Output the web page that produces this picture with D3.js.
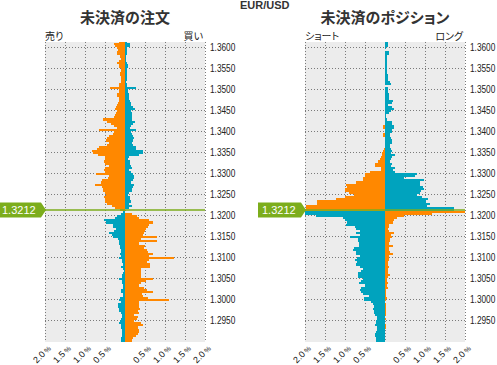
<!DOCTYPE html>
<html>
<head>
<meta charset="utf-8">
<script src="https://cdn.jsdelivr.net/npm/d3@7"></script>
<style>
  body { margin: 0; background: #fff; }
  svg { display: block; font-family: "Liberation Sans", Arial, sans-serif; }
  .jp { font-family: "Noto Sans CJK JP", sans-serif; font-feature-settings: "palt"; }
</style>
</head>
<body>
<div id="chart"></div>
<script>
"use strict"

const pair = "EUR/USD";
const currentPrice = 1.3212;
const binTop = 1.3610;   // lower edge of the top bucket
const binStep = 0.0005;  // bucket size

const yTicks = [1.2950, 1.3000, 1.3050, 1.3100, 1.3150, 1.3200, 1.3250,
                1.3300, 1.3350, 1.3400, 1.3450, 1.3500, 1.3550, 1.3600];
const xTicks = [-2, -1.5, -1, -0.5, 0.5, 1, 1.5, 2];
const xGrid = [-2, -1.5, -1, -0.5, 0, 0.5, 1, 1.5, 2];

// open orders in % per bucket, top bucket (1.3610) first
const orderSell = [
  0.14, 0.27, 0.24, 0.19, 0.18, 0.20, 0.19, 0.12, 0.10, 0.14,
  0.19, 0.16, 0.15, 0.10, 0.10, 0.12, 0.12, 0.10, 0.10, 0.09,
  0.14, 0.14, 0.37, 0.16, 0.16, 0.20, 0.20, 0.15, 0.14, 0.17,
  0.19, 0.22, 0.25, 0.20, 0.23, 0.26, 0.27, 0.56, 0.45, 0.35,
  0.28, 0.20, 0.64, 0.27, 0.29, 0.40, 0.45, 0.47, 0.40, 0.46,
  0.66, 0.70, 0.82, 0.80, 0.67, 0.51, 0.50, 0.52, 0.50, 0.39,
  0.50, 0.52, 0.50, 0.72, 0.41, 0.43, 0.58, 0.59, 0.74, 0.57,
  0.56, 0.55, 0.49, 0.48, 0.52, 0.51, 0.51, 0.44, 0.33, 0.24,
  0.12, 0.04, 0.10, 0.20, 0.24, 0.52, 0.47, 0.31, 0.29, 0.22,
  0.27, 0.39, 0.33, 0.31, 0.18, 0.16, 0.14, 0.13, 0.12, 0.10,
  0.11, 0.12, 0.10, 0.16, 0.08, 0.08, 0.06, 0.09, 0.04, 0.03,
  0.04, 0.08, 0.08, 0.14, 0.08, 0.08, 0.06, 0.06, 0.09, 0.09,
  0.06, 0.06, 0.12, 0.14, 0.09, 0.18, 0.18, 0.14, 0.14, 0.10,
  0.08, 0.08, 0.10, 0.12, 0.14, 0.11, 0.09, 0.08, 0.08, 0.08,
  0.08, 0.09, 0.09, 0.09
];
const orderBuy = [
  0.04, 0.13, 0.12, 0.04, 0.04, 0.06, 0.05, 0.03, 0.03, 0.03,
  0.04, 0.08, 0.07, 0.04, 0.04, 0.05, 0.05, 0.04, 0.04, 0.03,
  0.05, 0.04, 0.27, 0.08, 0.08, 0.10, 0.10, 0.10, 0.12, 0.14,
  0.15, 0.19, 0.26, 0.16, 0.18, 0.18, 0.18, 0.18, 0.25, 0.19,
  0.14, 0.12, 0.27, 0.15, 0.17, 0.20, 0.23, 0.20, 0.18, 0.20,
  0.27, 0.28, 0.46, 0.44, 0.36, 0.09, 0.07, 0.12, 0.13, 0.14,
  0.18, 0.11, 0.15, 0.19, 0.23, 0.22, 0.21, 0.15, 0.23, 0.21,
  0.18, 0.17, 0.11, 0.07, 0.12, 0.13, 0.16, 0.11, 0.18, 0.09,
  0.00, 0.00, 0.17, 0.30, 0.34, 0.61, 0.71, 0.61, 0.57, 0.52,
  0.51, 0.48, 0.44, 0.80, 0.40, 0.80, 0.36, 0.51, 0.48, 0.54,
  0.57, 0.71, 0.59, 1.23, 0.61, 0.54, 0.63, 0.63, 0.40, 0.40,
  0.40, 0.40, 0.40, 0.69, 0.52, 0.40, 0.34, 0.48, 0.56, 0.71,
  0.43, 0.44, 0.57, 1.11, 0.36, 0.34, 0.34, 0.38, 0.32, 0.36,
  0.23, 0.32, 0.29, 0.23, 0.40, 0.44, 0.32, 0.34, 0.34, 0.32,
  0.28, 0.21, 0.18, 0.18
];

// open positions in % per bucket, top bucket first
const positionShort = [
  0.00, 0.00, 0.00, 0.00, 0.00, 0.00, 0.00, 0.00, 0.00, 0.00,
  0.00, 0.00, 0.00, 0.00, 0.00, 0.00, 0.00, 0.00, 0.00, 0.00,
  0.00, 0.00, 0.00, 0.00, 0.00, 0.00, 0.00, 0.00, 0.00, 0.00,
  0.00, 0.00, 0.00, 0.00, 0.00, 0.00, 0.00, 0.00, 0.00, 0.00,
  0.04, 0.04, 0.00, 0.00, 0.04, 0.04, 0.00, 0.00, 0.00, 0.00,
  0.00, 0.02, 0.04, 0.07, 0.08, 0.10, 0.12, 0.17, 0.24, 0.26,
  0.09, 0.09, 0.37, 0.50, 0.50, 0.54, 0.55, 0.72, 0.98, 0.94,
  1.00, 0.99, 0.90, 0.78, 1.01, 1.22, 1.69, 1.69, 1.98, 1.98,
  2.00, 2.00, 2.00, 1.73, 1.04, 1.00, 0.96, 0.98, 0.74, 0.73,
  0.62, 0.72, 0.62, 0.87, 0.68, 0.68, 0.66, 0.64, 0.77, 0.79,
  0.72, 0.72, 0.63, 0.70, 0.75, 0.70, 0.72, 0.63, 0.56, 0.60,
  0.67, 0.67, 0.67, 0.54, 0.60, 0.64, 0.49, 0.60, 0.62, 0.60,
  0.56, 0.40, 0.52, 0.52, 0.34, 0.31, 0.28, 0.29, 0.27, 0.28,
  0.24, 0.21, 0.20, 0.22, 0.22, 0.25, 0.20, 0.21, 0.22, 0.24,
  0.24, 0.23, 0.22, 0.23
];
const positionLong = [
  0.08, 0.08, 0.07, 0.02, 0.00, 0.10, 0.11, 0.06, 0.05, 0.05,
  0.05, 0.05, 0.06, 0.04, 0.04, 0.05, 0.08, 0.07, 0.07, 0.12,
  0.16, 0.01, 0.07, 0.07, 0.07, 0.09, 0.11, 0.10, 0.19, 0.18,
  0.08, 0.18, 0.22, 0.16, 0.10, 0.03, 0.02, 0.05, 0.18, 0.18,
  0.23, 0.22, 0.18, 0.18, 0.12, 0.12, 0.14, 0.18, 0.17, 0.13,
  0.13, 0.14, 0.18, 0.16, 0.25, 0.18, 0.16, 0.13, 0.17, 0.14,
  0.24, 0.21, 0.24, 0.79, 0.75, 0.48, 0.97, 0.87, 0.88, 0.96,
  0.98, 0.89, 0.87, 0.81, 0.93, 1.07, 1.02, 1.12, 1.04, 1.72,
  1.72, 2.00, 1.18, 0.48, 0.29, 0.22, 0.21, 0.10, 0.11, 0.08,
  0.09, 0.23, 0.15, 0.18, 0.13, 0.13, 0.10, 0.19, 0.09, 0.11,
  0.12, 0.21, 0.11, 0.09, 0.09, 0.08, 0.08, 0.09, 0.08, 0.08,
  0.08, 0.13, 0.07, 0.04, 0.06, 0.08, 0.05, 0.07, 0.03, 0.03,
  0.03, 0.03, 0.05, 0.02, 0.01, 0.02, 0.02, 0.03, 0.02, 0.03,
  0.03, 0.00, 0.03, 0.01, 0.00, 0.03, 0.03, 0.00, 0.01, 0.00,
  0.00, 0.01, 0.00, 0.00
];

const orange = "#ff8800";
const teal = "#00a3be";
const green = "#7cad1c";
const squeeze = 0.83;   // the price labels are drawn in a narrow face

let width = 497, height = 365;
let plotTop = 42, plotBottom = 342, plotWidth = 160;

let panels = [
  {title: "未決済の注文", leftLabel: "売り", rightLabel: "買い",
   left: orderSell, right: orderBuy, x0: 45},
  {title: "未決済のポジション", leftLabel: "ショート", rightLabel: "ロング",
   left: positionShort, right: positionLong, x0: 305}
];

let svg = d3.select("#chart")
  .append("svg")
  .attr("width", width)
  .attr("height", height);

svg.append("text")
  .attr("x", 240)
  .attr("y", 8.5)
  .style("font-size", "11px")
  .style("font-weight", "bold")
  .style("fill", "#333")
  .text(pair);

let y = d3.scaleLinear()
  .domain([1.2898, 1.3612])
  .range([plotBottom, plotTop]);

panels.forEach(function(p, k) {
  let x = d3.scaleLinear()
    .domain([-2, 2])
    .range([p.x0, p.x0 + plotWidth]);

  let g = svg.append("g");

  g.append("text")
    .attr("class", "jp")
    .attr("x", p.x0 + plotWidth / 2)
    .attr("y", 23)
    .attr("text-anchor", "middle")
    .style("font-size", "15px")
    .style("font-weight", "bold")
    .style("fill", "#333")
    .text(p.title);

  g.append("text")
    .attr("class", "jp")
    .attr("x", p.x0)
    .attr("y", 39.5)
    .style("font-size", "10px")
    .style("fill", "#222")
    .text(p.leftLabel);

  g.append("text")
    .attr("class", "jp")
    .attr("x", p.x0 + plotWidth - 2)
    .attr("y", 39.5)
    .attr("text-anchor", "end")
    .style("font-size", "10px")
    .style("fill", "#222")
    .text(p.rightLabel);

  g.append("rect")
    .attr("x", p.x0)
    .attr("y", plotTop)
    .attr("width", plotWidth)
    .attr("height", plotBottom - plotTop)
    .style("fill", "#ececec");

  // dotted grid
  g.selectAll(".vgrid")
    .data(xGrid)
    .enter().append("line")
    .attr("x1", d => Math.round(x(d)) + 0.5)
    .attr("x2", d => Math.round(x(d)) + 0.5)
    .attr("y1", plotTop)
    .attr("y2", plotBottom)
    .style("stroke", "#7a7a7a")
    .style("stroke-dasharray", "1,2");

  g.selectAll(".hgrid")
    .data(yTicks)
    .enter().append("line")
    .attr("x1", p.x0)
    .attr("x2", p.x0 + plotWidth)
    .attr("y1", d => Math.round(y(d)) + 0.5)
    .attr("y2", d => Math.round(y(d)) + 0.5)
    .style("stroke", "#7a7a7a")
    .style("stroke-dasharray", "1,2");

  let clipId = "clip" + k;
  g.append("clipPath")
    .attr("id", clipId)
    .append("rect")
    .attr("x", p.x0)
    .attr("y", plotTop)
    .attr("width", plotWidth)
    .attr("height", plotBottom - plotTop);

  let rows = p.left.map(function(v, i) {
    let price = binTop - i * binStep;
    return {price: price, left: v, right: p.right[i], above: price + binStep > currentPrice};
  });

  let bars = g.append("g")
    .attr("clip-path", "url(#" + clipId + ")")
    .style("shape-rendering", "crispEdges");

  bars.selectAll(".leftBar")
    .data(rows.filter(d => d.left > 0))
    .enter().append("rect")
    .attr("x", d => x(-d.left))
    .attr("y", d => y(d.price + binStep))
    .attr("width", d => x(0) - x(-d.left))
    .attr("height", d => y(d.price) - y(d.price + binStep))
    .style("fill", d => d.above ? orange : teal);

  bars.selectAll(".rightBar")
    .data(rows.filter(d => d.right > 0))
    .enter().append("rect")
    .attr("x", x(0))
    .attr("y", d => y(d.price + binStep))
    .attr("width", d => x(d.right) - x(0))
    .attr("height", d => y(d.price) - y(d.price + binStep))
    .style("fill", d => d.above ? teal : orange);

  // current price
  let py = y(currentPrice);
  g.append("line")
    .attr("x1", p.x0)
    .attr("x2", p.x0 + plotWidth)
    .attr("y1", py)
    .attr("y2", py)
    .style("stroke", green)
    .style("stroke-width", 1.5);

  let tip = p.x0 + 1;
  g.append("path")
    .attr("d", "M" + (tip - 48) + "," + (py - 7.5) + "H" + (tip - 5) +
               "L" + tip + "," + py + "L" + (tip - 5) + "," + (py + 7.5) +
               "H" + (tip - 48) + "Z")
    .style("fill", green);

  g.append("text")
    .attr("x", tip - 44)
    .attr("y", py)
    .attr("dy", "0.36em")
    .style("font-size", "11px")
    .style("fill", "#fff")
    .text(currentPrice.toFixed(4));

  // price labels
  let yAxis = g.append("g")
    .attr("transform", "translate(" + (p.x0 + plotWidth) + ",0)")
    .call(d3.axisRight(y).tickValues(yTicks).tickSize(0).tickPadding(5)
      .tickFormat(d3.format(".4f")));
  yAxis.select(".domain").remove();
  yAxis.selectAll("text")
    .attr("x", 5 / squeeze)
    .attr("transform", "scale(" + squeeze + ",1)")
    .style("font-family", "'Liberation Sans', Arial, sans-serif")
    .style("font-size", "10px")
    .style("fill", "#222");

  // percent labels
  let xAxis = g.append("g")
    .attr("transform", "translate(0," + plotBottom + ")")
    .call(d3.axisBottom(x).tickValues(xTicks).tickSize(0)
      .tickFormat(d => Math.abs(d).toFixed(1)));
  xAxis.select(".domain").remove();
  xAxis.selectAll("text")
    .attr("x", 0)
    .attr("y", 0)
    .attr("dy", 0)
    .attr("text-anchor", "end")
    .attr("transform", "translate(6,7) rotate(-45)")
    .style("font-family", "'Liberation Sans', Arial, sans-serif")
    .style("font-size", "9px")
    .style("fill", "#111")
    .append("tspan")
    .style("font-size", "7px")
    .text(" %");
});
</script>
</body>
</html>
